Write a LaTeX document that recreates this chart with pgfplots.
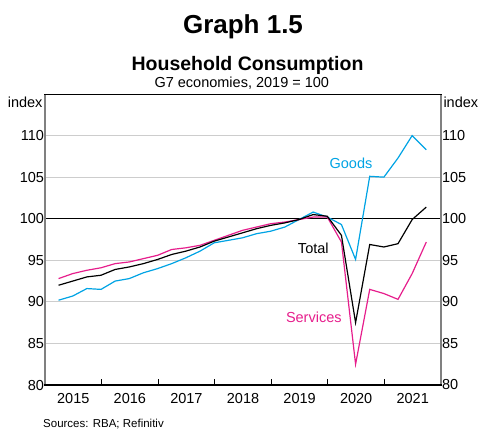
\documentclass[border=0pt]{standalone}
\usepackage{pgfplots}
\pgfplotsset{compat=1.18}
\usepackage{pgfplotstable}
\usepackage{fontspec}
\setmainfont{Liberation Sans}
\definecolor{goods}{RGB}{0,163,228}
\definecolor{serv}{RGB}{230,30,140}
\definecolor{gridc}{RGB}{205,205,205}
\definecolor{sidec}{RGB}{128,128,128}
\pgfplotstableread{
x goods total serv
2015.24 90.2 92.0 92.8
2015.49 90.7 92.5 93.4
2015.74 91.6 93.0 93.8
2015.99 91.5 93.2 94.1
2016.24 92.5 93.9 94.6
2016.49 92.8 94.2 94.8
2016.74 93.5 94.6 95.2
2016.99 94.0 95.1 95.6
2017.24 94.6 95.7 96.3
2017.49 95.3 96.1 96.5
2017.74 96.1 96.6 96.8
2017.99 97.1 97.3 97.4
2018.24 97.4 97.8 98.0
2018.49 97.7 98.3 98.6
2018.74 98.2 98.8 99.0
2018.99 98.5 99.2 99.4
2019.24 99.0 99.5 99.6
2019.49 99.9 99.9 99.9
2019.74 100.8 100.5 100.2
2019.99 100.2 100.3 100.2
2020.24 99.3 98.0 97.2
2020.49 95.1 87.5 82.5
2020.74 105.1 96.9 91.5
2020.99 105.0 96.6 91.0
2021.24 107.3 97.0 90.3
2021.49 110.0 99.9 93.4
2021.74 108.3 101.4 97.2
}\data
\newcommand{\tickfont}{\fontsize{14.5bp}{17bp}\selectfont}
\begin{document}
\begin{tikzpicture}[x=1bp,y=1bp]
\useasboundingbox (0,0) rectangle (479,430);
\begin{axis}[
  name=ax,
  at={(45bp,45bp)}, anchor=south west,
  scale only axis, width=396bp, height=291bp,
  xmin=2015, xmax=2022, ymin=80, ymax=115,
  axis line style={draw=none},
  xtick={2015.5,2016.5,2017.5,2018.5,2019.5,2020.5,2021.5},
  xticklabels={2015,2016,2017,2018,2019,2020,2021},
  minor xtick={2016,2017,2018,2019,2020,2021},
  xtick pos=bottom, ytick pos=left,
  major tick length=0pt, minor tick length=6bp,
  tick align=inside,
  minor tick style={black, line width=0.8bp},
  ytick={80,85,90,95,100,105,110},
  ymajorgrids, major grid style={gridc, line width=1.2bp},
  /pgf/number format/assume math mode=true,
  ticklabel style={font=\tickfont},
  yticklabel style={xshift=2.5bp},
  xticklabel style={yshift=-5bp},
  clip=false,
]
\draw[black, line width=0.9bp] (axis cs:2015,100) -- (axis cs:2022,100);
\addplot[goods, line width=1.2bp, mark=none] table[x=x, y=goods] {\data};
\addplot[serv, line width=1.2bp, mark=none] table[x=x, y=serv] {\data};
\addplot[black, line width=1.2bp, mark=none] table[x=x, y=total] {\data};
\end{axis}
\begin{axis}[
  at={(45bp,45bp)}, anchor=south west,
  scale only axis, width=396bp, height=291bp,
  xmin=2015, xmax=2022, ymin=80, ymax=115,
  axis line style={draw=none},
  xtick=\empty,
  ytick={80,85,90,95,100,105,110},
  yticklabel pos=right,
  major tick length=0pt,
  /pgf/number format/assume math mode=true,
  ticklabel style={font=\tickfont},
  yticklabel style={xshift=-2.5bp},
]
\addplot[draw=none, forget plot] coordinates {(2015,80)};
\end{axis}
% frame
\draw[sidec, line width=1.6bp] (ax.south west) -- (ax.north west);
\draw[sidec, line width=1.6bp] (ax.south east) -- (ax.north east);
\draw[black, line width=1bp] ([xshift=-0.8bp]ax.north west) -- ([xshift=0.8bp]ax.north east);
\draw[black, line width=1.3bp] ([xshift=-0.8bp]ax.south west) -- ([xshift=0.8bp]ax.south east);
% index labels
\node[anchor=north east, inner sep=0pt, font=\tickfont] at ([xshift=-2.3bp,yshift=-2.7bp]ax.north west) {index};
\node[anchor=north west, inner sep=0pt, font=\tickfont] at ([xshift=2.3bp,yshift=-2.7bp]ax.north east) {index};
% series labels
\node[anchor=base, inner sep=0pt, text=goods, font=\tickfont] at (351,261.7) {Goods};
\node[anchor=base, inner sep=0pt, text=black, font=\tickfont] at (313.3,176.7) {Total};
\node[anchor=base, inner sep=0pt, text=serv, font=\tickfont] at (313.8,107.7) {Services};
% titles
\node[anchor=base, inner sep=0pt, font=\fontsize{26bp}{30bp}\selectfont\bfseries] at (243,396.7) {Graph 1.5};
\node[anchor=base, inner sep=0pt, font=\fontsize{19.5bp}{23bp}\selectfont\bfseries] at (247.5,360) {Household Consumption};
\node[anchor=base, inner sep=0pt, font=\fontsize{14.5bp}{17bp}\selectfont] at (241.8,342.7) {G7 economies, 2019 = 100};
\node[anchor=base west, inner sep=0pt, font=\fontsize{11.5bp}{13bp}\selectfont] at (43,2.3) {Sources: RBA; Refinitiv};
\end{tikzpicture}
\end{document}
